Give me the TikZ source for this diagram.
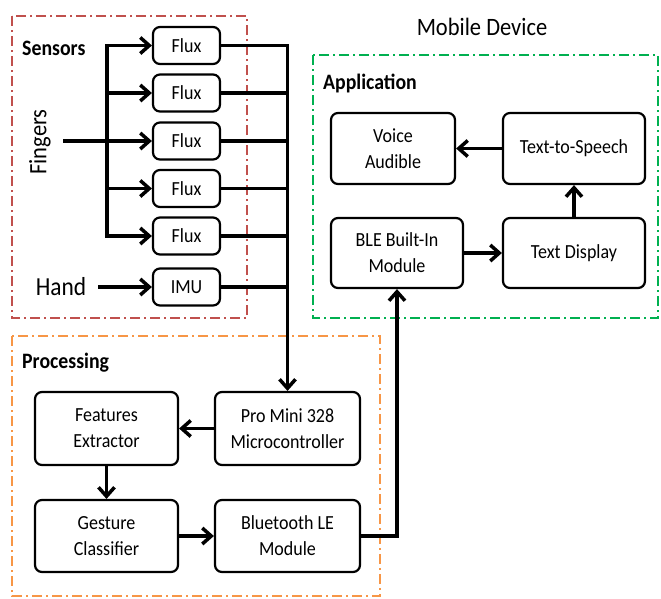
\documentclass[tikz,border=0pt]{standalone}
\usepackage{fontspec}
\setmainfont{Carlito}[FakeStretch=0.9]
\usetikzlibrary{arrows.meta,calc}
\definecolor{sred}{RGB}{192,80,77}
\definecolor{sgreen}{RGB}{0,176,80}
\definecolor{sorange}{RGB}{247,150,70}
\tikzset{
  blk/.style={draw=black,line width=2.2pt,rounded corners=7pt,align=center,inner sep=2pt,
    font=\fontsize{20}{26}\selectfont},
  conn/.style={line width=3.5pt},
  arr/.style={line width=3.5pt,-{Straight Barb[length=9pt,width=16pt]}},
  grp/.style={line width=2pt,dash pattern=on 10pt off 4pt on 2pt off 4pt},
  ttl/.style={anchor=west,inner sep=0pt,font=\fontsize{22}{26}\selectfont\bfseries},
}
\begin{document}
\begin{tikzpicture}[x=1pt,y=-1pt]
\useasboundingbox (0,0) rectangle (661,598);
% group boxes
\draw[grp,sred] (12,16) rectangle (247,318);
\draw[grp,sgreen] (313,55) rectangle (658,318);
\draw[grp,sorange] (12,336) rectangle (380,596);
% titles
\node[ttl] (tsens) at (22,48) {Sensors};
\node[ttl] (tapp) at (323,83) {Application};
\node[ttl] (tproc) at (22,363) {Processing};
\node[inner sep=0pt,font=\fontsize{25}{28}\selectfont] (tmob) at (482,27) {Mobile Device};
% sensors
\foreach \i/\y in {1/45.5,2/93,3/141,4/188.5,5/236}{
  \node[blk,minimum width=67pt,minimum height=37pt] (f\i) at (186.5,\y) {Flux};
}
\node[blk,minimum width=67pt,minimum height=37pt] (imu) at (186.5,287) {IMU};
\node[inner sep=0pt,rotate=90,font=\fontsize{25}{28}\selectfont] (fing) at (40,142) {Fingers};
\node[inner sep=0pt,font=\fontsize{26}{28}\selectfont] (hand) at (61,287) {Hand};
% application
\node[blk,minimum width=124pt,minimum height=71pt] (voice) at (393,148.5) {Voice\\Audible};
\node[blk,minimum width=142pt,minimum height=71pt] (tts) at (574,148.5) {Text-to-Speech};
\node[blk,minimum width=132pt,minimum height=70pt] (ble) at (397,253) {BLE Built-In\\Module};
\node[blk,minimum width=142pt,minimum height=70pt] (disp) at (574,253) {Text Display};
% processing
\node[blk,minimum width=143pt,minimum height=73pt] (fe) at (106.5,428.5) {Features\\Extractor};
\node[blk,minimum width=145pt,minimum height=73pt] (pm) at (287.5,428.5) {Pro Mini 328\\Microcontroller};
\node[blk,minimum width=143pt,minimum height=72pt] (gc) at (106.5,536) {Gesture\\Classifier};
\node[blk,minimum width=145pt,minimum height=72pt] (bt) at (287.5,536) {Bluetooth LE\\Module};
% finger inputs
\coordinate (fin) at (63,141);
\coordinate (trt) at (107,45.5);
\coordinate (trb) at (107,236);
\draw[conn,line cap=rect] (trt) -- (trb);
\draw[conn] (fin) -- (fin -| trt);
\foreach \i in {1,...,5}{
  \draw[arr] (f\i.west -| trt) -- (f\i.west);
}
\draw[arr] ([xshift=12pt]hand.east) -- (imu.west);
% bus to microcontroller
\draw[arr] (f1.east) -| (pm.north);
\foreach \i in {2,...,5}{
  \draw[conn] (f\i.east) -- (f\i.east -| pm.north);
}
\draw[conn] (imu.east) -- (imu.east -| pm.north);
% processing flow
\draw[arr] (pm.west) -- (fe.east);
\draw[arr] (fe.south) -- (gc.north);
\draw[arr] (gc.east) -- (bt.west);
\draw[arr] (bt.east) -| (ble.south);
% application flow
\draw[arr] (ble.east) -- (disp.west);
\draw[arr] (disp.north) -- (tts.south);
\draw[arr] (tts.west) -- (voice.east);
\end{tikzpicture}
\end{document}
